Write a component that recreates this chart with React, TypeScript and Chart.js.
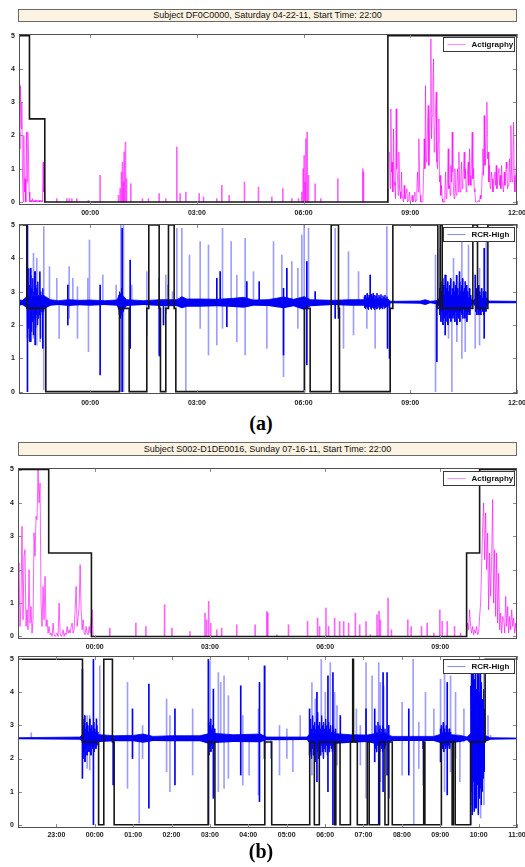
import React, { useEffect, useRef } from 'react';
import { Chart, registerables } from 'chart.js';
Chart.register(...registerables);

// ---------- axis ticks ----------
const yTicks = [0, 1, 2, 3, 4, 5];
const yLabels = ['0', '1', '2', '3', '4', '5'];
const xTicksA = [0, 3, 6, 9, 12];
const xLabelsA = ['00:00', '03:00', '06:00', '09:00', '12:00'];
const xTicksB1 = [0, 3, 6, 9];
const xLabelsB1 = ['00:00', '03:00', '06:00', '09:00'];
const xTicksB2 = [-1, 0, 1, 2, 3, 4, 5, 6, 7, 8, 9, 10, 11];
const xLabelsB2 = ['23:00', '00:00', '01:00', '02:00', '03:00', '04:00', '05:00', '06:00', '07:00', '08:00', '09:00', '10:00', '11:00'];

const titleA = 'Subject DF0C0000, Saturday 04-22-11, Start Time: 22:00';
const titleB = 'Subject S002-D1DE0016, Sunday 07-16-11, Start Time: 22:00';

// ---------- (a) actigraphy ----------  time in hours from 00:00
const actiAStep = [[-2, 5], [-1.706, 2.5], [-1.275, 0], [8.37, 5], [12, 5]];
const actiAEarlyStart = -1.996;
const actiAEarlyStep = 0.01874;
const actiAEarly = [2.1, 1.6, 3.5, 2.2, 3.0, 0.9, 0.0, 2.0, 0.3, 0.7, 0.0, 2.1, 0.6, 2.1, 1.5, 0.3, 0.0, 0.0, 0.05, 0.0, 0.1, 0.0, 0.05, 0.0, 0.05, 0.0, 0.05, 0.0, 0.05, 0.0, 0.05, 0.0, 0.05, 0.0, 0.05, 0.0, 1.2, 0.3, 0.6, 0.0];
const actiAMorningStart = 8.416;
const actiAMorningStep = 0.01875;
const actiAMorning = [
  1.5, 0.4, 2.8, 0.9, 1.2, 0.3, 2.2, 0.6, 0.5, 0.1, 2.8, 1.0, 0.8, 0.2, 1.5, 0.4, 0.3, 0.1, 0.9, 0.2,
  0.2, 0.0, 0.5, 0.1, 0.1, 0.3, 0.4, 0.0, 0.05, 0.2, 0.3, 0.0, 0.0, 0.1, 0.2, 0.0, 0.05, 0.2, 0.3, 0.0,
  0.05, 0.4, 0.9, 0.3, 1.9, 0.6, 0.2, 0.0, 0.0, 0.0, 0.05, 0.8, 1.9, 1.0, 3.5, 1.2, 1.4, 2.2, 2.9, 1.1,
  1.8, 2.7, 4.9, 1.9, 2.6, 3.6, 4.3, 1.5, 2.0, 2.8, 3.3, 1.2, 1.0, 1.8, 2.5, 0.6, 0.8, 0.2, 0.5, 0.1,
  0.0, 0.0, 0.0, 0.3, 0.9, 0.1, 0.2, 0.7, 1.6, 0.4, 0.5, 0.2, 1.1, 0.6, 2.1, 0.9, 0.3, 0.1, 1.0, 0.4,
  0.2, 0.6, 1.0, 0.3, 1.5, 0.5, 0.3, 0.8, 1.2, 0.4, 0.6, 1.0, 1.5, 0.7, 1.0, 0.3, 0.4, 0.9, 1.2, 0.5,
  1.6, 0.8, 0.5, 1.3, 2.1, 0.7, 1.0, 0.4, 0.3, 0.0, 0.0, 0.0, 0.0, 0.05, 0.05, 0.0, 0.2, 0.1, 0.3, 0.9,
  1.6, 0.8, 2.6, 1.1, 1.2, 2.0, 3.0, 1.3, 1.5, 0.6, 1.1, 0.4, 0.5, 0.9, 0.7, 0.3, 0.4, 0.8, 0.9, 0.5,
  1.1, 0.4, 0.6, 0.9, 1.0, 0.5, 0.8, 0.4, 1.1, 0.6, 0.6, 0.3, 0.9, 0.5, 0.7, 1.2, 1.0, 0.4, 0.5, 0.9,
  1.3, 0.6, 2.3, 0.9, 0.6, 1.4, 2.4, 0.8, 0.3, 0.7, 1.1];
const actiASpikes = [[-0.937, 0.1], [-0.656, 0.1], [-0.59, 0.1], [-0.515, 0.1], [-0.375, 0.1], [-0.047, 0.05], [0.281, 0.8], [0.797, 0.2], [0.843, 0.4], [0.881, 0.9], [0.909, 1.2], [0.937, 0.6], [0.956, 1.5], [0.993, 1.8], [1.022, 0.7], [1.143, 0.55], [1.471, 0.1], [1.64, 0.1], [1.94, 0.25], [2.127, 0.1], [2.437, 1.65], [2.53, 0.25], [2.69, 0.3], [3.065, 0.25], [3.187, 0.15], [3.561, 0.1], [3.702, 0.5], [3.908, 0.2], [4.339, 0.6], [4.733, 0.45], [5.108, 0.15], [5.417, 0.4], [5.67, 0.1], [5.857, 0.1], [5.951, 0.3], [5.989, 1.0], [6.017, 1.4], [6.045, 0.6], [6.064, 1.9], [6.101, 2.1], [6.139, 0.8], [6.326, 0.55], [6.485, 0.1], [6.963, 0.7], [7.666, 1.0], [7.685, 0.9], [8.369, 0.4]];

// ---------- (a) RCR-High ----------
const rcrAStep = [[-2, 5], [-1.781, 2.5], [-1.246, 0], [0.825, 2.5], [1.097, 0], [1.593, 2.5], [1.649, 5], [1.94, 2.5], [1.977, 0], [2.127, 2.5], [2.202, 5], [2.362, 2.5], [2.409, 0], [6.026, 2.5], [6.185, 0], [6.776, 5], [6.982, 2.5], [7.01, 0], [8.435, 2.5], [8.51, 5], [9.775, 2.5], [9.841, 5], [9.897, 2.5], [10.759, 5], [10.89, 2.5], [11.181, 5], [12, 5]];
const rcrABand = [[-2.0, 2.58, 2.75], [-1.9, 2.6, 2.74], [-1.78, 2.5, 2.85], [-1.25, 2.5, 2.85], [-1.12, 2.58, 2.76], [-0.89, 2.6, 2.73], [-0.6, 2.57, 2.76], [-0.3, 2.59, 2.74], [0.0, 2.58, 2.75], [0.4, 2.6, 2.73], [0.75, 2.58, 2.75], [0.8, 2.45, 2.85], [0.95, 2.45, 2.85], [1.03, 2.57, 2.76], [1.5, 2.6, 2.73], [1.97, 2.57, 2.76], [2.44, 2.56, 2.76], [2.58, 2.5, 2.85], [2.72, 2.55, 2.78], [3.09, 2.55, 2.78], [3.56, 2.56, 2.77], [4.03, 2.54, 2.8], [4.31, 2.52, 2.83], [4.59, 2.58, 2.75], [5.0, 2.57, 2.76], [5.44, 2.5, 2.84], [5.72, 2.56, 2.77], [6.02, 2.45, 2.85], [6.19, 2.56, 2.76], [6.84, 2.6, 2.74], [7.3, 2.58, 2.76], [7.69, 2.58, 2.76], [8.39, 2.58, 2.76], [8.45, 2.65, 2.71], [9.28, 2.64, 2.72], [9.42, 2.6, 2.76], [9.56, 2.65, 2.71], [9.73, 2.62, 2.73], [9.82, 2.55, 2.8], [10.7, 2.55, 2.8], [10.76, 2.64, 2.72], [10.83, 2.55, 2.8], [11.15, 2.55, 2.8], [11.2, 2.65, 2.72], [12.0, 2.65, 2.71]];
// dense noisy stretches: start hour, step hour, values
const rcrANoise1 = { start: -1.78, step: 0.014, values: [3.6, 1.6, 3.3, 1.9, 3.7, 1.5, 3.2, 2.0, 3.5, 1.8, 3.1, 2.1, 3.4, 1.7, 3.0, 2.2, 3.6, 1.9, 3.2, 2.3, 3.1, 2.0, 3.3, 2.2, 2.9, 2.3, 3.6, 1.6, 3.0, 2.4, 2.9, 2.3, 3.1, 2.4, 2.9, 2.5, 2.85, 2.5, 2.8, 2.55] };
const rcrANoise2 = { start: 0.8, step: 0.014, values: [2.9, 2.3, 3.0, 2.2, 2.95, 2.35, 3.1, 2.25, 2.9, 2.4, 2.8] };
const rcrANoise3 = { start: 9.82, step: 0.014, values: [3.1, 2.3, 3.3, 2.1, 3.0, 2.4, 3.4, 2.0, 3.2, 2.2, 2.9, 2.5, 3.5, 2.1, 3.1, 2.3, 3.3, 2.0, 3.0, 2.4, 3.2, 2.2, 3.4, 2.1, 2.9, 2.4, 3.1, 2.2, 3.3, 2.3, 3.0, 2.1, 3.2, 2.4, 3.5, 2.0, 3.1, 2.3, 2.9, 2.2, 3.3, 2.1, 3.0, 2.4, 3.2, 2.3, 3.4, 2.2, 3.0, 2.5, 3.1, 2.2, 2.9, 2.4, 3.2, 2.1, 3.0, 2.3, 2.8, 2.4, 3.1, 2.3, 2.9, 2.5] };
const rcrANoise4 = { start: 10.83, step: 0.014, values: [2.9, 2.4, 3.1, 2.3, 2.8, 2.5, 3.2, 2.3, 3.0, 2.4, 2.9, 2.3, 3.1, 2.5, 2.8, 2.4, 3.0, 2.3, 2.9, 2.5, 3.0, 2.4, 2.8, 2.6] };
const rcrANoise5 = { start: 7.7, step: 0.014, values: [2.85, 2.52, 2.9, 2.48, 2.8, 2.55, 2.95, 2.5, 2.82, 2.45, 2.9, 2.55, 2.78, 2.5, 2.92, 2.47, 2.85, 2.53, 2.95, 2.5, 2.8, 2.45, 2.9, 2.52, 2.88, 2.48, 2.96, 2.5, 2.82, 2.55, 2.9, 2.47, 2.85, 2.5, 2.92, 2.52, 2.8, 2.48, 2.88, 2.55, 2.83, 2.5, 2.9, 2.53, 2.8, 2.55, 2.85, 2.52, 2.78, 2.6] };
const rcrADark = [[-1.762, 0, 5], [-1.668, 1.5, 3.7], [-1.546, 1.4, 3.6], [-1.331, 1.3, 2.6], [-0.628, 2.0, 3.2], [0.281, 0.5, 3.2], [0.9, 0, 4.9], [1.125, 1.3, 3.95], [1.949, 1.07, 2.66], [2.062, 2.0, 2.7], [3.561, 2.66, 3.4], [3.655, 2.66, 3.6], [3.843, 1.95, 2.66], [4.405, 2.66, 3.3], [4.752, 2.66, 3.3], [5.436, 1.1, 3.1], [5.53, 2.66, 3.7], [6.092, 0.8, 3.9], [6.326, 2.66, 3.0], [6.888, 2.2, 2.66], [6.982, 2.2, 2.66], [7.873, 2.66, 3.5], [8.36, 1.3, 2.66], [8.416, 1.0, 2.66], [9.747, 0.9, 2.66], [9.981, 1.7, 3.5], [10.384, 2.66, 3.6], [10.544, 2.66, 3.3], [10.825, 2.66, 3.5], [11.078, 1.6, 4.3]];
const rcrALight = [[-1.593, 1.6, 4.15], [-1.5, 1.4, 4.0], [-1.406, 1.5, 3.6], [-1.303, 0.05, 4.95], [-1.143, 2.66, 3.75], [-0.937, 2.66, 3.4], [-0.872, 1.6, 2.66], [-0.59, 2.2, 3.75], [-0.487, 2.66, 3.4], [-0.356, 1.6, 3.15], [-0.066, 2.66, 3.4], [-0.047, 1.2, 2.66], [-0.019, 2.66, 4.55], [0.356, 2.66, 3.5], [0.731, 2.66, 3.2], [0.862, 0, 5], [0.937, 0, 5], [1.171, 2.66, 3.2], [1.593, 1.7, 3.6], [1.931, 1.1, 3.4], [2.127, 2.35, 3.5], [2.184, 2.66, 3.2], [2.315, 2.66, 3.0], [2.437, 2.66, 4.9], [2.577, 2.66, 4.9], [2.69, 0, 2.66], [2.793, 2.66, 4.1], [3.093, 1.9, 4.5], [3.327, 1.1, 4.4], [3.561, 1.4, 2.66], [3.721, 1.9, 4.9], [3.964, 2.66, 4.5], [4.124, 1.5, 3.5], [4.358, 1.1, 4.6], [4.592, 2.66, 3.6], [4.967, 1.3, 2.66], [5.155, 2.66, 4.5], [5.389, 2.6, 4.1], [5.436, 0.45, 2.66], [5.67, 2.66, 3.9], [5.839, 1.9, 3.7], [5.951, 2.66, 4.7], [6.017, 0, 5], [6.139, 2.66, 4.9], [6.888, 2.66, 4.9], [7.123, 1.3, 2.66], [7.263, 2.66, 4.2], [7.404, 1.7, 2.66], [7.545, 2.66, 3.6], [7.779, 1.9, 2.66], [8.013, 1.3, 2.66], [8.341, 2.66, 4.95], [9.709, 0, 4.1], [9.841, 2.66, 4.3], [10.075, 1.6, 2.66], [10.169, 0, 2.66], [10.215, 2.66, 4.0], [10.309, 1.5, 2.66], [10.45, 1.0, 4.8], [10.544, 1.2, 2.66], [10.637, 2.66, 4.4], [10.825, 1.3, 2.66], [10.947, 1.4, 3.7], [11.134, 2.66, 4.6]];

// ---------- (b) actigraphy ----------
const actiBStep = [[-2, 5], [-1.2, 2.5], [-0.087, 0], [9.687, 2.5], [10.026, 5], [11, 5]];
const actiBEarlyStart = -2.0;
const actiBEarlyStep = 0.02611;
const actiBEarly = [1.3, 2.2, 0.3, 1.0, 3.3, 0.5, 2.4, 2.6, 0.3, 0.8, 0.2, 2.0, 0.4, 0.9, 0.1, 0.5, 3.1, 2.4, 3.6, 3.5, 5.0, 4.0, 4.6, 1.0, 0.3, 1.5, 0.5, 1.8, 0.3, 0.5, 0.1, 0.3, 0.05, 0.1, 0.0, 0.4, 0.05, 0.0, 0.05, 0.1, 0.0, 1.0, 0.1, 0.0, 0.05, 0.2, 0.0, 0.1, 0.05, 0.3, 0.1, 0.2, 0.1, 0.3, 0.4, 0.1, 0.2, 0.8, 1.5, 0.3, 0.6, 0.9, 2.15, 0.8, 0.2, 0.5, 0.1, 0.05, 0.3, 0.1, 0.05, 0.3, 0.1, 0.5, 0.8, 0.0];
const actiBMorningStart = 9.687;
const actiBMorningStep = 0.02611;
const actiBMorning = [0.05, 0.4, 0.2, 0.8, 0.3, 0.1, 0.3, 0.05, 0.2, 0.1, 0.3, 0.05, 0.1, 0.6, 1.0, 2.1, 3.3, 4.0, 2.3, 3.7, 2.0, 3.1, 0.8, 2.5, 1.2, 2.4, 4.1, 1.0, 2.6, 0.6, 2.5, 0.4, 1.9, 0.2, 0.7, 0.1, 0.6, 0.5, 0.1, 1.2, 0.3, 0.9, 0.1, 0.6, 0.2, 0.8, 0.3, 0.55, 0.1, 0.4, 0.05];
const actiBSpikes = [[0.392, 0.25], [1.071, 0.4], [1.332, 0.3], [1.819, 0.95], [2.01, 0.25], [2.48, 0.15], [2.872, 0.7], [2.916, 0.5], [2.968, 1.05], [3.02, 0.4], [3.177, 0.2], [3.307, 0.25], [3.699, 0.35], [4.178, 0.35], [4.482, 0.75], [4.508, 0.7], [4.743, 0.05], [5.048, 0.35], [5.544, 0.45], [5.805, 0.55], [5.857, 0.3], [6.023, 0.85], [6.092, 0.3], [6.249, 0.55], [6.38, 0.45], [6.484, 0.45], [6.614, 0.4], [6.789, 0.7], [6.902, 0.35], [7.067, 0.45], [7.18, 0.05], [7.354, 0.65], [7.406, 0.75], [7.441, 0.5], [7.641, 1.15], [7.728, 0.2], [8.155, 0.5], [8.242, 0.3], [8.512, 0.3], [8.66, 0.4], [8.834, 0.1], [8.99, 0.8], [9.051, 0.45], [9.182, 0.45], [9.373, 0.3], [9.53, 0.1]];

// ---------- (b) RCR-High ----------
const rcrBStep = [[-2, 5], [-0.32, 2.5], [0.1, 0], [0.235, 5], [0.46, 2.5], [0.505, 0], [2.96, 2.5], [3.13, 0], [4.43, 2.5], [4.61, 0], [5.6, 2.5], [5.72, 0], [5.85, 2.5], [6.25, 0], [6.28, 2.5], [6.39, 0], [6.66, 2.5], [6.72, 5], [6.74, 2.5], [6.84, 0], [7.1, 2.5], [7.15, 0], [7.42, 2.5], [7.56, 0], [7.65, 2.5], [7.75, 0], [8.57, 2.5], [8.6, 0], [9.03, 2.5], [9.31, 0], [9.34, 2.5], [9.39, 0], [9.79, 2.5], [10.17, 5], [11, 5]];
const rcrBBand = [[-2.0, 2.58, 2.63], [-0.39, 2.57, 2.65], [-0.32, 2.5, 2.72], [0.13, 2.5, 2.72], [0.52, 2.52, 2.69], [1.0, 2.52, 2.7], [1.26, 2.48, 2.74], [1.52, 2.53, 2.67], [2.0, 2.52, 2.69], [2.74, 2.52, 2.69], [2.96, 2.45, 2.75], [3.13, 2.47, 2.76], [3.61, 2.5, 2.72], [4.31, 2.49, 2.74], [4.48, 2.55, 2.65], [5.53, 2.56, 2.65], [5.6, 2.45, 2.75], [6.3, 2.45, 2.75], [6.66, 2.48, 2.72], [7.09, 2.5, 2.71], [7.3, 2.45, 2.75], [7.6, 2.47, 2.73], [7.75, 2.53, 2.67], [8.83, 2.53, 2.67], [9.0, 2.47, 2.73], [9.3, 2.48, 2.72], [9.53, 2.5, 2.7], [9.7, 2.55, 2.65], [9.79, 2.45, 2.75], [10.16, 2.5, 2.7], [10.31, 2.57, 2.63], [11.0, 2.58, 2.62]];
const rcrBNoise1 = { start: -0.32, step: 0.013, values: [3.2, 2.0, 3.0, 2.2, 3.3, 1.9, 2.9, 2.3, 3.1, 2.1, 3.0, 2.4, 2.8, 2.2, 3.2, 2.3, 2.9, 2.1, 3.0, 2.4, 2.8, 2.3, 3.1, 2.2, 2.9, 2.4, 2.8, 2.3, 3.0, 2.4, 2.8, 2.5, 2.7] };
const rcrBNoise2 = { start: 2.96, step: 0.013, values: [3.1, 2.1, 3.0, 2.3, 3.2, 2.2, 2.9, 2.4, 3.0, 2.3, 2.8, 2.4, 2.9, 2.5] };
const rcrBNoise3 = { start: 5.6, step: 0.013, values: [3.0, 2.2, 3.2, 2.0, 2.9, 2.3, 3.3, 2.1, 3.0, 2.4, 3.1, 1.9, 2.9, 2.3, 3.2, 2.2, 3.4, 2.0, 3.0, 2.3, 3.1, 2.1, 2.9, 2.4, 3.3, 2.2, 3.0, 2.0, 3.1, 2.3, 2.9, 2.2, 3.2, 2.4, 3.0, 2.1, 2.8, 2.3, 3.1, 2.2, 2.9, 2.4, 3.0, 2.3, 2.8, 2.2, 3.0, 2.4, 2.9, 2.3, 2.8, 2.4, 2.9, 2.5] };
const rcrBNoise4 = { start: 7.3, step: 0.013, values: [2.9, 2.3, 3.0, 2.2, 2.8, 2.4, 3.1, 2.3, 2.9, 2.2, 3.0, 2.4, 2.8, 2.3, 2.9, 2.2, 3.0, 2.4, 2.8, 2.3, 2.9, 2.4, 2.8] };
const rcrBNoise5 = { start: 9.0, step: 0.013, values: [2.9, 2.2, 3.0, 2.4, 2.8, 2.3, 3.1, 2.2, 2.9, 2.4, 2.8, 2.3, 3.0, 2.4, 2.9, 2.3, 2.8, 2.4, 2.9, 2.3, 2.8, 2.5, 2.7] };
const rcrBNoise6 = { start: 9.79, step: 0.013, values: [4.2, 1.0, 4.6, 0.6, 3.9, 1.3, 4.8, 0.4, 4.4, 0.9, 4.9, 0.5, 4.1, 1.2, 4.7, 0.3, 4.5, 0.8, 4.0, 1.1, 4.6, 0.6, 4.3, 1.0, 3.8, 1.4, 4.1, 1.6, 3.5] };
const rcrBDark = [[-0.322, 1.4, 4.7], [-0.035, 0, 5], [0.044, 2.6, 3.2], [0.479, 1.2, 2.6], [0.983, 2.0, 3.5], [1.41, 0.5, 4.25], [2.089, 1.2, 3.5], [2.959, 0, 5], [3.09, 0.8, 4.1], [3.803, 1.5, 4.2], [4.291, 0.7, 4.3], [4.421, 2.0, 4.8], [5.596, 2.1, 3.5], [5.788, 1.3, 4.0], [6.075, 1.0, 4.5], [6.205, 0, 4.6], [6.397, 2.6, 3.3], [7.067, 2.6, 3.5], [7.293, 1.9, 3.5], [7.398, 0, 2.6], [7.511, 1.0, 4.6], [7.615, 1.5, 4.6], [7.659, 0.8, 3.0], [8.181, 1.5, 3.5], [8.555, 2.3, 2.6], [9.008, 1.9, 2.6], [9.182, 0.9, 4.3], [9.834, 0.3, 5], [9.921, 0.5, 5], [10.009, 0.8, 4.9]];
const rcrBLight = [[-1.654, 2.6, 2.78], [-0.2, 1.7, 3.3], [-0.131, 1.65, 3.3], [0.131, 2.6, 4.8], [0.853, 1.1, 4.3], [1.158, 0.05, 2.6], [1.245, 2.0, 3.0], [1.871, 1.6, 3.8], [1.958, 1.0, 3.3], [2.55, 1.5, 3.5], [3.003, 2.6, 4.95], [3.22, 1.0, 4.6], [3.281, 2.6, 4.3], [3.368, 1.1, 4.5], [3.481, 1.4, 3.9], [3.856, 1.2, 3.3], [4.021, 1.5, 2.6], [4.265, 0.9, 3.5], [4.439, 2.6, 4.8], [4.587, 2.0, 2.6], [4.813, 1.5, 3.0], [5.004, 2.0, 2.9], [5.161, 1.6, 2.6], [5.352, 2.6, 3.3], [5.657, 1.5, 4.3], [5.744, 2.0, 3.8], [5.901, 2.1, 5.0], [6.005, 2.6, 4.0], [6.136, 2.6, 4.9], [6.249, 2.6, 4.0], [6.31, 1.8, 3.6], [6.815, 2.6, 3.5], [6.919, 1.8, 3.0], [7.067, 0.8, 4.9], [7.224, 2.6, 4.5], [7.398, 2.6, 4.9], [7.441, 1.3, 4.3], [7.528, 2.6, 4.2], [8.007, 1.5, 3.7], [8.294, 2.6, 5.0], [8.311, 0, 2.6], [8.442, 1.7, 3.1], [8.555, 1.2, 2.6], [8.616, 2.6, 4.0], [8.834, 2.6, 3.5], [9.008, 2.6, 4.4], [9.112, 1.0, 4.8], [9.269, 1.6, 4.5], [9.399, 2.0, 4.0], [9.512, 1.3, 2.6], [9.617, 2.5, 3.5], [9.808, 0, 5], [9.878, 0.4, 5], [10.052, 0.2, 4.9], [10.139, 0.6, 4.7], [10.244, 2.6, 3.3], [10.313, 2.6, 2.7]];

// ---------- styling ----------
const FONT = '"Liberation Sans", Arial, sans-serif';
const tickFont = { family: FONT, size: 7, weight: 'bold' };
const MAGENTA = 'rgba(255,0,255,0.62)';
const BLUE_DARK = '#0000f5';
const BLUE_LIGHT = 'rgba(40,40,255,0.45)';
const BLACK = '#161616';

const framePlugin = {
  id: 'frameLegend',
  afterDatasetsDraw(chart: any, _args: any, opts: any) {
    const { ctx, chartArea: a, scales } = chart;
    const xs = scales.x;
    const ys = scales.y;
    ctx.save();
    ctx.lineWidth = 1;
    ctx.strokeStyle = '#8a8a8a';
    ctx.beginPath();
    xs.ticks.forEach((t: any) => {
      const p = Math.round(xs.getPixelForValue(t.value)) + 0.5;
      ctx.moveTo(p, a.bottom); ctx.lineTo(p, a.bottom - 4);
      ctx.moveTo(p, a.top); ctx.lineTo(p, a.top + 4);
    });
    ys.ticks.forEach((t: any) => {
      const p = Math.round(ys.getPixelForValue(t.value)) + 0.5;
      ctx.moveTo(a.left, p); ctx.lineTo(a.left + 4, p);
      ctx.moveTo(a.right, p); ctx.lineTo(a.right - 4, p);
    });
    ctx.stroke();
    ctx.strokeStyle = '#505050';
    ctx.strokeRect(Math.round(a.left) + 0.5, Math.round(a.top) + 0.5, Math.round(a.right - a.left) - 1, Math.round(a.bottom - a.top) - 1);
    const w = 71, h = 14;
    const bx = Math.round(a.right - 3 - w) + 0.5;
    const by = Math.round(a.top + 3) + 0.5;
    ctx.fillStyle = '#ffffff';
    ctx.fillRect(bx, by, w, h);
    ctx.strokeStyle = '#3a3a3a';
    ctx.strokeRect(bx, by, w, h);
    ctx.strokeStyle = opts.color;
    ctx.beginPath();
    ctx.moveTo(bx + 4, by + h / 2);
    ctx.lineTo(bx + 22, by + h / 2);
    ctx.stroke();
    ctx.fillStyle = '#111';
    ctx.font = 'bold 8px ' + FONT;
    ctx.textBaseline = 'middle';
    ctx.textAlign = 'left';
    ctx.fillText(opts.label, bx + 28, by + h / 2 + 0.5);
    ctx.restore();
  },
};

const pts = (pairs: number[][]) => pairs.map((p) => ({ x: p[0], y: p[1] }));
const sampled = (start: number, step: number, vals: number[]) => vals.map((v, i) => ({ x: start + i * step, y: v }));
const seg = (s: any) => sampled(s.start, s.step, s.values);

function stepDs(steps: number[][]) {
  return { type: 'line', data: pts(steps), stepped: 'before', borderColor: BLACK, borderWidth: 1.6, pointRadius: 0, fill: false };
}
function lineDs(data: any[], color: string) {
  return { type: 'line', data, borderColor: color, borderWidth: 1, pointRadius: 0, fill: false, tension: 0 };
}
function barDs(data: any[], color: string) {
  return { type: 'bar', data, backgroundColor: color, borderWidth: 0, barThickness: 1, grouped: false };
}
function bandDs(band: number[][], color: string) {
  const lo = { type: 'line', data: band.map((b) => ({ x: b[0], y: b[1] })), borderWidth: 0, borderColor: color, pointRadius: 0, fill: false };
  const hi = { type: 'line', data: band.map((b) => ({ x: b[0], y: b[2] })), borderWidth: 0.8, borderColor: color, backgroundColor: color, pointRadius: 0, fill: '-1' };
  return [lo, hi];
}
const spikesFloat = (s: number[][]) => s.map((p) => ({ x: p[0], y: [p[1], p[2]] }));
const spikesZero = (s: number[][]) => s.map((p) => ({ x: p[0], y: [0, p[1]] }));

function buildConfig(p: any) {
  return {
    type: 'line',
    data: { datasets: p.datasets },
    plugins: [framePlugin],
    options: {
      animation: false,
      responsive: false,
      events: [],
      layout: { padding: { top: p.padTop, right: 8, left: 0, bottom: 0 } },
      plugins: {
        legend: { display: false },
        tooltip: { enabled: false },
        frameLegend: { label: p.legendLabel, color: p.legendColor },
      },
      scales: {
        x: {
          type: 'linear', min: p.xMin, max: p.xMax, offset: false,
          grid: { display: false, drawTicks: false }, border: { display: false },
          afterBuildTicks: (s: any) => { s.ticks = p.xTicks.map((v: number) => ({ value: v })); },
          afterFit: (s: any) => { s.height = p.xAxisH; s.paddingLeft = 0; s.paddingRight = 0; },
          ticks: { autoSkip: false, maxRotation: 0, minRotation: 0, padding: p.labelPad, font: tickFont, color: '#1a1a1a', callback: (_v: any, i: number) => p.xLabels[i] },
        },
        y: {
          type: 'linear', min: p.yMin, max: p.yMax,
          grid: { display: false, drawTicks: false }, border: { display: false },
          afterBuildTicks: (s: any) => { s.ticks = yTicks.map((v) => ({ value: v })); },
          afterFit: (s: any) => { s.width = p.left; s.paddingTop = 0; s.paddingBottom = 0; },
          ticks: { padding: 4, font: tickFont, color: '#1a1a1a', callback: (_v: any, i: number) => yLabels[i] },
        },
      },
    },
  };
}

function Panel({ top, height, spec }: any) {
  const ref = useRef<HTMLCanvasElement>(null);
  useEffect(() => {
    const c = new Chart(ref.current as any, buildConfig(spec) as any);
    return () => c.destroy();
  }, []);
  return (
    <div style={{ position: 'absolute', left: 0, top, width: 525, height }}>
      <canvas ref={ref} width={525} height={height} style={{ display: 'block', width: 525, height }} />
    </div>
  );
}

const panelA1 = {
  datasets: [
    stepDs(actiAStep),
    lineDs(sampled(actiAEarlyStart, actiAEarlyStep, actiAEarly), MAGENTA),
    lineDs(sampled(actiAMorningStart, actiAMorningStep, actiAMorning), MAGENTA),
    barDs(spikesZero(actiASpikes), MAGENTA),
  ],
  xMin: -2, xMax: 12, yMin: -0.09, yMax: 5.05, xTicks: xTicksA, xLabels: xLabelsA,
  left: 19, padTop: 5, xAxisH: 14, labelPad: 4, legendLabel: 'Actigraphy', legendColor: 'rgba(255,0,255,0.45)',
};
const panelA2 = {
  datasets: [
    stepDs(rcrAStep),
    barDs(spikesFloat(rcrADark), BLUE_DARK),
    lineDs(seg(rcrANoise1), BLUE_DARK),
    lineDs(seg(rcrANoise2), BLUE_DARK),
    lineDs(seg(rcrANoise3), BLUE_DARK),
    lineDs(seg(rcrANoise4), BLUE_DARK),
    lineDs(seg(rcrANoise5), BLUE_DARK),
    ...bandDs(rcrABand, BLUE_DARK),
    barDs(spikesFloat(rcrALight), BLUE_LIGHT),
  ],
  xMin: -2, xMax: 12, yMin: -0.07, yMax: 5.03, xTicks: xTicksA, xLabels: xLabelsA,
  left: 19, padTop: 5, xAxisH: 15, labelPad: 5, legendLabel: 'RCR-High', legendColor: 'rgba(60,60,255,0.6)',
};
const panelB1 = {
  datasets: [
    stepDs(actiBStep),
    lineDs(sampled(actiBEarlyStart, actiBEarlyStep, actiBEarly), MAGENTA),
    lineDs(sampled(actiBMorningStart, actiBMorningStep, actiBMorning), MAGENTA),
    barDs(spikesZero(actiBSpikes), MAGENTA),
  ],
  xMin: -2, xMax: 11, yMin: -0.075, yMax: 5.045, xTicks: xTicksB1, xLabels: xLabelsB1,
  left: 18, padTop: 5, xAxisH: 13, labelPad: 4, legendLabel: 'Actigraphy', legendColor: 'rgba(255,0,255,0.45)',
};
const panelB2 = {
  datasets: [
    stepDs(rcrBStep),
    barDs(spikesFloat(rcrBDark), BLUE_DARK),
    lineDs(seg(rcrBNoise1), BLUE_DARK),
    lineDs(seg(rcrBNoise2), BLUE_DARK),
    lineDs(seg(rcrBNoise3), BLUE_DARK),
    lineDs(seg(rcrBNoise4), BLUE_DARK),
    lineDs(seg(rcrBNoise5), BLUE_DARK),
    lineDs(seg(rcrBNoise6), BLUE_DARK),
    ...bandDs(rcrBBand, BLUE_DARK),
    barDs(spikesFloat(rcrBLight), BLUE_LIGHT),
  ],
  xMin: -2, xMax: 11, yMin: -0.1, yMax: 5.1, xTicks: xTicksB2, xLabels: xLabelsB2,
  left: 18, padTop: 4, xAxisH: 14, labelPad: 2.5, legendLabel: 'RCR-High', legendColor: 'rgba(60,60,255,0.6)',
};

const titleStyle: any = {
  position: 'absolute', left: 18, width: 499, boxSizing: 'border-box',
  border: '1px solid #6a6a6a', background: '#fcf3e2', color: '#111',
  fontFamily: FONT, fontSize: 9, textAlign: 'center', whiteSpace: 'nowrap',
};
const captionStyle: any = {
  position: 'absolute', left: 211, width: 100, textAlign: 'center',
  fontFamily: '"Liberation Serif", "Times New Roman", serif', fontWeight: 'bold', fontSize: 20, lineHeight: '20px', color: '#000',
};

export default function App() {
  return (
    <div style={{ position: 'absolute', left: 0, top: 0, width: 525, height: 867, background: '#fff', overflow: 'hidden' }}>
      <div style={{ ...titleStyle, top: 9, height: 13, lineHeight: '11px' }}>{titleA}</div>
      <Panel top={29} height={190} spec={panelA1} />
      <Panel top={219} height={190} spec={panelA2} />
      <div style={{ ...captionStyle, top: 413 }}>(a)</div>
      <div style={{ ...titleStyle, top: 442, height: 14, lineHeight: '12px' }}>{titleB}</div>
      <Panel top={463} height={189} spec={panelB1} />
      <Panel top={652} height={190} spec={panelB2} />
      <div style={{ ...captionStyle, top: 841 }}>(b)</div>
    </div>
  );
}
